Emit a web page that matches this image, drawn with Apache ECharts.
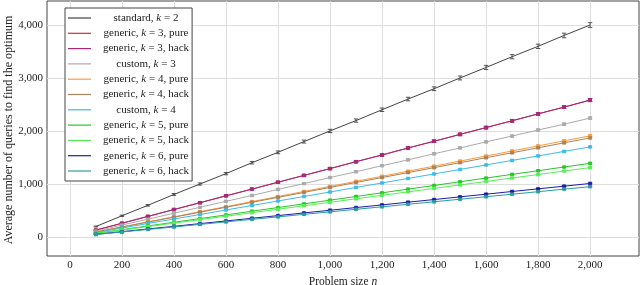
<!DOCTYPE html>
<html><head><meta charset="utf-8">
<script src="https://cdn.jsdelivr.net/npm/echarts@6/dist/echarts.min.js"></script>
<style>html,body{margin:0;padding:0;background:#fff}#c{width:640px;height:285px}</style>
</head><body><div id="c"></div>
<script>
// ---- data ----
const sizes = [100,200,300,400,500,600,700,800,900,1000,1100,1200,1300,1400,1500,1600,1700,1800,1900,2000];
const xTicks = [0,200,400,600,800,1000,1200,1400,1600,1800,2000];
const yTicks = [0,1000,2000,3000,4000];
const yTitle = 'Average number of queries to find the optimum';

const standardK2   = [198,401,598,803,1000,1196,1402,1598,1801,2002,2197,2401,2603,2798,3001,3199,3402,3598,3803,4000];
const genericK3Pure= [131,259,390,518,648,776,905,1033,1162,1292,1420,1549,1679,1806,1937,2064,2194,2322,2452,2581];
const genericK3Hack= [130,260,388,519,647,778,903,1035,1163,1290,1422,1547,1681,1808,1935,2066,2192,2325,2450,2586];
const customK3     = [112,226,336,450,560,674,784,898,1008,1122,1232,1346,1456,1571,1681,1795,1905,2019,2129,2244];
const genericK4Pure= [96,191,287,382,478,573,669,764,860,955,1051,1146,1242,1337,1433,1528,1624,1719,1815,1910];
const genericK4Hack= [94,187,281,374,468,561,655,748,842,935,1029,1122,1216,1309,1403,1496,1590,1683,1777,1870];
const customK4     = [85,170,255,340,425,510,595,680,765,850,935,1020,1105,1190,1275,1360,1445,1530,1615,1700];
const genericK5Pure= [70,139,209,278,348,417,487,556,626,695,765,834,904,973,1043,1112,1182,1251,1321,1390];
const genericK5Hack= [66,131,197,262,328,393,459,524,590,655,721,786,852,917,983,1048,1114,1179,1245,1310];
const genericK6Pure= [51,101,152,202,253,303,354,404,455,505,556,606,657,707,758,808,859,909,960,1010];
const genericK6Hack= [48,95,143,190,238,285,333,380,428,475,523,570,618,665,713,760,808,855,903,950];

const errStandard = [8,12,15,18,20,22,24,26,28,30,31,33,34,36,37,39,40,42,43,45];
const errK3       = [5,7,9,11,12,13,14,15,16,17,18,19,20,21,22,23,24,25,26,27];
const errCustomK3 = [4,6,7,8,9,10,11,12,13,14,15,15,16,17,17,18,19,19,20,21];
const errK4       = [3,4,5,6,7,8,8,9,10,10,11,11,12,12,13,13,14,14,15,15];
const errSmall    = [2,3,4,4,5,5,6,6,6,7,7,7,8,8,8,9,9,9,10,10];

const seriesNames = ['standard, k = 2','generic, k = 3, pure','generic, k = 3, hack','custom, k = 3',
  'generic, k = 4, pure','generic, k = 4, hack','custom, k = 4','generic, k = 5, pure',
  'generic, k = 5, hack','generic, k = 6, pure','generic, k = 6, hack'];
const seriesValues = [standardK2,genericK3Pure,genericK3Hack,customK3,genericK4Pure,genericK4Hack,
  customK4,genericK5Pure,genericK5Hack,genericK6Pure,genericK6Hack];
const seriesErrors = [errStandard,errK3,errK3,errCustomK3,errK4,errK4,errK4,errSmall,errSmall,errSmall,errSmall];

// ---- styles ----
const colors = ['#444444','#e02828','#a3297f','#aaaaaa','#ff9a3a','#a9825a','#3cbce8','#26c826','#55f055','#1c1cb0','#2a9e9e'];
const FONT = '"Liberation Serif", "DejaVu Serif", serif';
const LFS = 11;

const ctx = document.createElement('canvas').getContext('2d');
function tw(s, it){ ctx.font = (it?'italic ':'') + LFS + 'px ' + FONT; return ctx.measureText(s).width; }
const LW = 100;
const rich = { t:{fontFamily:FONT,fontSize:LFS,color:'#222'}, i:{fontFamily:FONT,fontSize:LFS,fontStyle:'italic',color:'#222'} };
seriesNames.forEach((n,i)=>{
  const k = n.indexOf('k =');
  const w = tw(n.slice(0,k)) + tw('k',true) + tw(n.slice(k+1));
  rich['p'+i] = {width: Math.max(0,(LW-w)/2), fontSize:LFS};
});

const series = [];
seriesNames.forEach((n,i)=>{
  series.push({
    name:n, type:'line', data: sizes.map((x,j)=>[x, seriesValues[i][j]]),
    symbol: i===0 ? 'none' : 'rect', symbolSize: 3.5, showSymbol: i!==0,
    lineStyle:{color:colors[i], width:1}, itemStyle:{color:colors[i]},
    z: 2+i, animation:false, silent:true
  });
  series.push({
    type:'custom', silent:true, animation:false, z: 2+i,
    data: sizes.map((x,j)=>[x, seriesValues[i][j], seriesErrors[i][j]]),
    renderItem:(params, api)=>{
      const x = api.value(0), y = api.value(1), e = api.value(2);
      const t = api.coord([x, y+e]), b = api.coord([x, y-e]);
      const w = 2.2, st = {stroke: colors[i], lineWidth: 0.9};
      return {type:'group', children:[
        {type:'line', shape:{x1:t[0],y1:t[1],x2:b[0],y2:b[1]}, style:st},
        {type:'line', shape:{x1:t[0]-w,y1:t[1],x2:t[0]+w,y2:t[1]}, style:st},
        {type:'line', shape:{x1:b[0]-w,y1:b[1],x2:b[0]+w,y2:b[1]}, style:st}
      ]};
    }
  });
});

const chart = echarts.init(document.getElementById('c'), null, {renderer:'canvas'});
chart.setOption({
  animation:false,
  backgroundColor:'#fff',
  grid:{left:47, right:1, top:1, bottom:29, outerBoundsMode:'none', containLabel:false,
    show:true, borderColor:'#444', borderWidth:1, backgroundColor:'transparent'},
  graphic:[{type:'text', x:9, y:130, rotation:Math.PI/2,
    style:{text:yTitle, fontFamily:FONT, fontSize:12, fill:'#222', align:'center', verticalAlign:'middle'}}],
  xAxis:{type:'value', min:-88, max:2188,
    name:'{t|Problem size }{i|n}', nameLocation:'middle', nameGap:20,
    nameTextStyle:{rich:{t:{fontFamily:FONT, fontSize:11.5, color:'#222'},
                         i:{fontFamily:FONT, fontSize:11.5, fontStyle:'italic', color:'#222'}}},
    axisLine:{show:false}, axisTick:{show:false, customValues:xTicks},
    axisLabel:{customValues:xTicks, fontFamily:FONT, fontSize:11, color:'#222', margin:4,
      formatter:v=>v.toLocaleString('en-US')},
    splitLine:{show:true, lineStyle:{color:'#dedede', width:1}}
  },
  yAxis:{type:'value', min:-358, max:4453,
    axisLine:{show:false}, axisTick:{show:false, customValues:yTicks},
    axisLabel:{customValues:yTicks, fontFamily:FONT, fontSize:11, color:'#222', margin:4,
      formatter:v=>v.toLocaleString('en-US')},
    splitLine:{show:true, lineStyle:{color:'#dedede', width:1}}
  },
  legend:{
    data: seriesNames, orient:'vertical', left:65, top:8,
    backgroundColor:'#fff', borderColor:'#444', borderWidth:1, borderRadius:0,
    padding:[3,3,3,3], itemGap:1.3, itemWidth:23, itemHeight:1.2, icon:'rect',
    selectedMode:false,
    textStyle:{fontFamily:FONT, fontSize:LFS, color:'#222', lineHeight:14, rich:rich},
    formatter: n => {
      const i = seriesNames.indexOf(n), k = n.indexOf('k =');
      return '{p'+i+'| }{t|'+n.slice(0,k)+'}{i|k}{t|'+n.slice(k+1)+'}';
    }
  },
  series: series
});
</script>
</body></html>
